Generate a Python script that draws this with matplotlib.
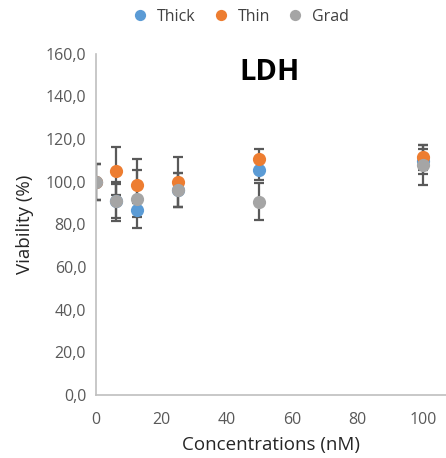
import matplotlib
matplotlib.use("Agg")
import matplotlib.pyplot as plt
from matplotlib.ticker import FuncFormatter

plt.rcParams['font.family'] = ['Open Sans', 'DejaVu Sans']

conc = [0, 6.25, 12.5, 25, 50, 100]
thick = [100.0, 91.0, 86.9, 96.0, 105.7, 109.5]
thick_err = [8.4, 8.0, 3.3, 8.0, 5.0, 6.0]
thin = [100.0, 105.1, 98.5, 99.7, 110.8, 111.4]
thin_err = [8.4, 11.4, 12.1, 11.7, 4.7, 6.0]
grad = [100.0, 90.8, 91.9, 96.3, 90.7, 108.0]
grad_err = [8.4, 9.0, 13.6, 8.0, 8.7, 9.4]

series = [("Thick", thick, thick_err, "#5B9BD5"),
          ("Thin", thin, thin_err, "#ED7D31"),
          ("Grad", grad, grad_err, "#A5A5A5")]

fig = plt.figure(figsize=(4.46, 4.58), dpi=100)
ax = fig.add_axes([0.215, 0.1376, 0.785, 0.745])

for name, vals, errs, col in series:
    ax.errorbar(conc, vals, yerr=errs, fmt='none', ecolor='#595959',
                elinewidth=1.6, capsize=3.7, capthick=1.6, zorder=2)
for i, (name, vals, errs, col) in enumerate(series):
    ax.plot(conc, vals, 'o', color=col, markersize=9.5, label=name,
            zorder=3 + i, markeredgewidth=0)

ax.set_xlim(0, 107)
ax.set_ylim(0, 160)
ax.set_xticks([0, 20, 40, 60, 80, 100])
ax.set_yticks(range(0, 161, 20))
ax.yaxis.set_major_formatter(FuncFormatter(lambda v, p: f"{v:.1f}".replace('.', ',')))
ax.tick_params(length=0, labelsize=11.5, colors='#595959', pad=7)
ax.tick_params(axis='x', pad=12)
for s in ['top', 'right']:
    ax.spines[s].set_visible(False)
for s in ['left', 'bottom']:
    ax.spines[s].set_color('#BFBFBF')
    ax.spines[s].set_linewidth(1.2)
ax.spines['left'].set_zorder(10)

ax.set_xlabel("Concentrations (nM)", fontsize=13.5, color='#262626', labelpad=6)
ax.set_ylabel("Viability (%)", fontsize=13.5, color='#262626', labelpad=8)
ax.text(0.497, 0.945, "LDH", transform=ax.transAxes, ha='center', va='center',
        fontsize=21, fontweight='bold', color='black')

fig.legend(loc='upper center', bbox_to_anchor=(0.53, 1.012), ncol=3, frameon=False,
           fontsize=11.5, handletextpad=0.05, columnspacing=0.6, markerscale=0.85,
           labelcolor='#404040')

fig.savefig("out.png", dpi=100)
